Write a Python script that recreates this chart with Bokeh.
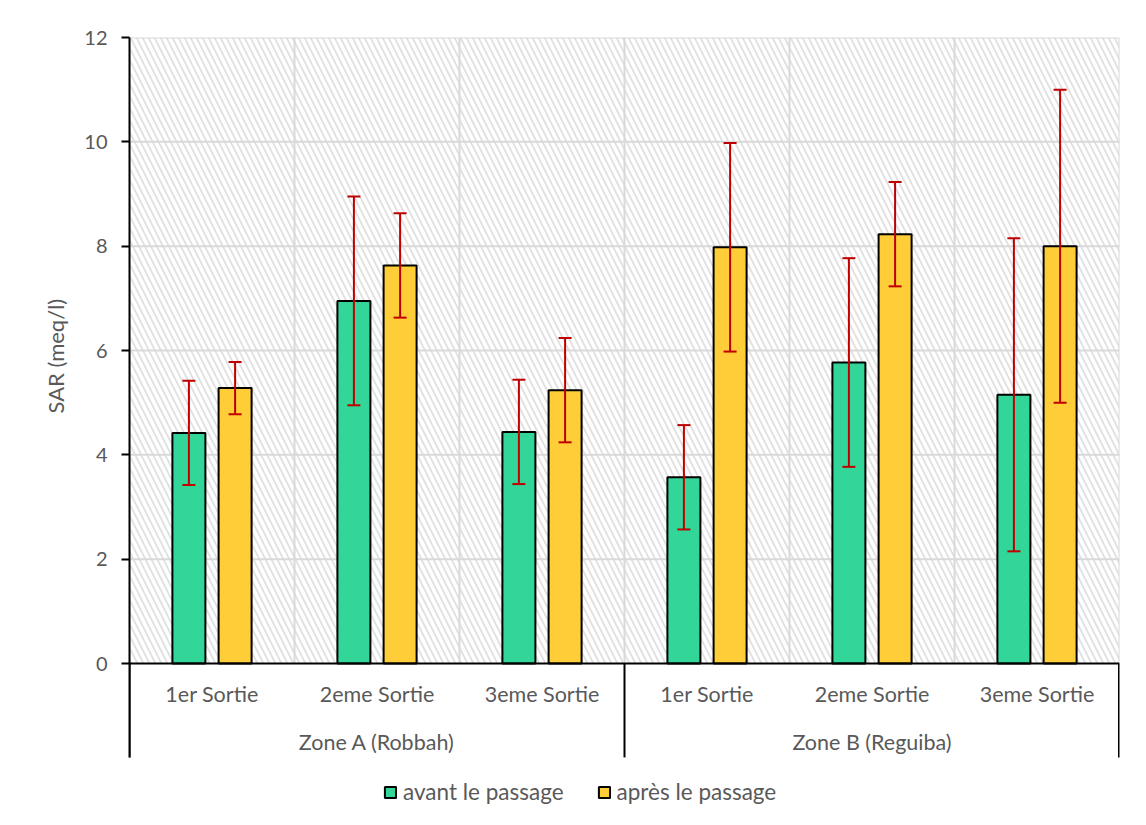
from bokeh.plotting import figure
from bokeh.models import (FactorRange, ColumnDataSource, Whisker, TeeHead, Legend,
                          LegendItem, FixedTicker, Title, Range1d)
from bokeh.transform import dodge
from bokeh.core.properties import value
from bokeh.embed import file_html
from bokeh.resources import INLINE

# ---------------- data ----------------
zones = ["Zone A (Robbah)", "Zone B (Reguiba)"]
sorties = ["1er Sortie", "2eme Sortie", "3eme Sortie"]
series_names = ["avant le passage", "après le passage"]
avant = [4.42, 6.95, 4.44, 3.57, 5.77, 5.15]
avant_err = [1.0, 2.0, 1.0, 1.0, 2.0, 3.0]
apres = [5.28, 7.63, 5.24, 7.98, 8.23, 8.00]
apres_err = [0.5, 1.0, 1.0, 2.0, 1.0, 3.0]
y_ticks = [0, 2, 4, 6, 8, 10, 12]
y_title = "SAR (meq/l)"

# ---------------- styles ----------------
GREEN = "#33D699"
YELLOW = "#FFCD38"
ERR = "#C00000"
GRID = "#D9D9D9"
TXT = "#595959"
FONT = "Lato"
FS = "21.5px"
Y_SEP = -1.80      # bottom of the category separators
Y_BOTTOM = -3.105  # bottom of the frame (room for the legend)

factors = [(z, s) for z in zones for s in sorties]
n = len(factors)
group_edges = [0]
for z in zones:
    group_edges.append(group_edges[-1] + len(sorties))

src = ColumnDataSource(dict(
    x=factors,
    avant=avant, apres=apres,
    a_lo=[v - e for v, e in zip(avant, avant_err)],
    a_hi=[v + e for v, e in zip(avant, avant_err)],
    b_lo=[v - e for v, e in zip(apres, apres_err)],
    b_hi=[v + e for v, e in zip(apres, apres_err)],
))

x_range = FactorRange(*factors, factor_padding=0, group_padding=0, range_padding=0)
p = figure(x_range=x_range, y_range=Range1d(Y_BOTTOM, y_ticks[-1]),
           x_axis_location=None,
           frame_width=990, frame_height=788,
           min_border_left=129, min_border_right=27, min_border_top=37, min_border_bottom=0,
           output_backend="svg", toolbar_location=None)
p.outline_line_color = None
p.background_fill_color = "white"
p.border_fill_color = "white"
p.xgrid.visible = False
p.ygrid.visible = False

# hatched plot background
p.quad(left=0, right=n, bottom=0, top=y_ticks[-1], fill_color="white",
       line_color=None, hatch_pattern="\\", hatch_color="#E0E0E0",
       hatch_scale=12, hatch_weight=1.8)
# gridlines
p.segment(x0=0, x1=n, y0=y_ticks[1:], y1=y_ticks[1:], line_color=GRID, line_width=2)
p.segment(x0=list(range(n + 1)), x1=list(range(n + 1)), y0=0, y1=y_ticks[-1],
          line_color=GRID, line_width=2)

# bars
r_av = p.vbar(x=dodge("x", -0.14, range=p.x_range), top="avant", width=0.2, source=src,
              fill_color=GREEN, line_color="black", line_width=2)
r_ap = p.vbar(x=dodge("x", 0.14, range=p.x_range), top="apres", width=0.2, source=src,
              fill_color=YELLOW, line_color="black", line_width=2)

# x axis line and category separators
p.segment(x0=0, x1=n, y0=0, y1=0, line_color="black", line_width=2)
p.segment(x0=group_edges, x1=group_edges, y0=Y_SEP, y1=0,
          line_color="black", line_width=[2] * (len(group_edges) - 1) + [3])

# error bars
for col_lo, col_hi, off in (("a_lo", "a_hi", -0.14), ("b_lo", "b_hi", 0.14)):
    w = Whisker(base=dodge("x", off, range=p.x_range), lower=col_lo, upper=col_hi,
                source=src, line_color=ERR, line_width=2,
                upper_head=TeeHead(size=13, line_color=ERR, line_width=2),
                lower_head=TeeHead(size=13, line_color=ERR, line_width=2))
    w.level = "annotation"
    p.add_layout(w)

# category labels
p.text(x=factors, y=-0.575, text=[s for _, s in factors], text_align="center",
       text_baseline="middle", text_font=value(FONT), text_font_size=FS,
       text_color=TXT)
p.text(x=zones, y=-1.495, text=zones, text_align="center",
       text_baseline="middle", text_font=value(FONT), text_font_size=FS,
       text_color=TXT)

# y axis
ax = p.yaxis[0]
ax.ticker = FixedTicker(ticks=y_ticks)
ax.bounds = (Y_SEP, y_ticks[-1])
ax.axis_line_color = "black"
ax.axis_line_width = 2
ax.major_tick_line_color = "black"
ax.major_tick_line_width = 2
ax.major_tick_out = 8
ax.major_tick_in = 0
ax.minor_tick_out = 0
ax.minor_tick_in = 0
ax.major_label_text_font = FONT
ax.major_label_text_font_size = "20px"
ax.major_label_text_color = TXT
ax.major_label_standoff = 14

# y title (starts ~412 px above the frame bottom, as in the reference)
p.add_layout(Title(text=y_title, align="left", offset=412, standoff=25,
                   text_font=FONT, text_font_size="22px", text_font_style="normal",
                   text_color=TXT), "left")

# legend (inside the frame's lower strip)
legend = Legend(items=[LegendItem(label=series_names[0], renderers=[r_av]),
                       LegendItem(label=series_names[1], renderers=[r_ap])],
                orientation="horizontal", location=(254, 20), margin=0,
                padding=4, spacing=33, label_standoff=6,
                glyph_width=14, glyph_height=14, label_height=24,
                label_text_font=FONT, label_text_font_size="22.5px",
                label_text_color=TXT, border_line_color=None,
                background_fill_alpha=0)
p.add_layout(legend, "center")

open("out.html", "w").write(file_html(p, INLINE))
